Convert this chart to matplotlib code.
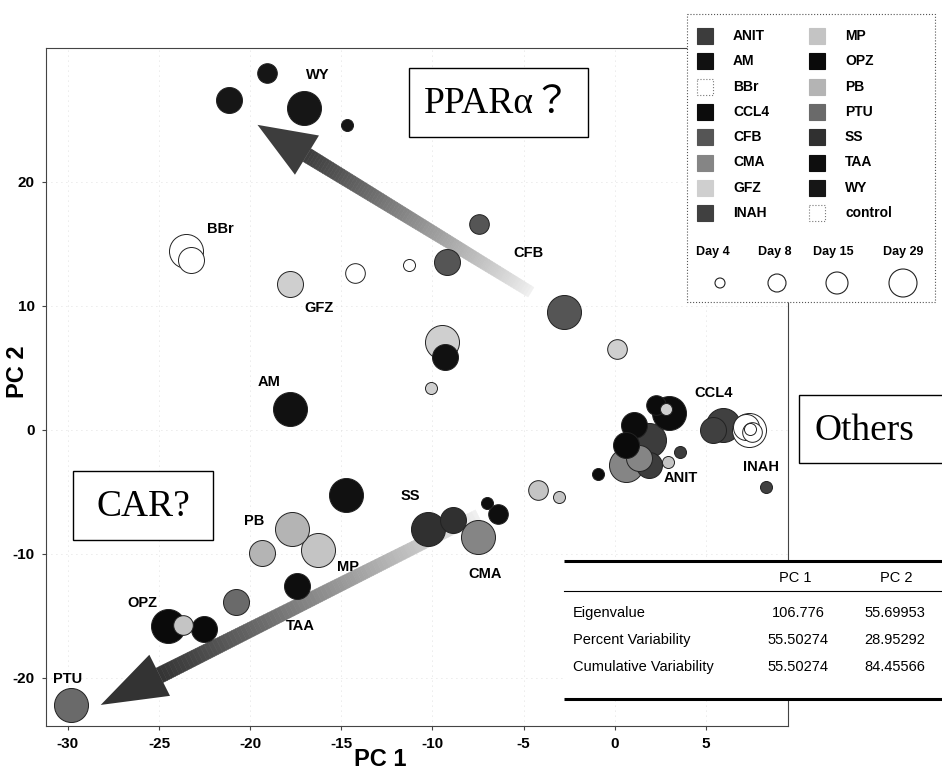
import numpy as np
import matplotlib.pyplot as plt
from matplotlib.patches import Polygon, Rectangle, Circle
from matplotlib.collections import PolyCollection
from matplotlib.transforms import IdentityTransform

plt.rcParams['font.family'] = ['Liberation Sans', 'DejaVu Sans']
plt.rcParams['axes.unicode_minus'] = False

# compounds and their gray shades
compounds = ['ANIT', 'AM', 'BBr', 'CCL4', 'CFB', 'CMA', 'GFZ', 'INAH',
             'MP', 'OPZ', 'PB', 'PTU', 'SS', 'TAA', 'WY', 'control']
shades = ['#3c3c3c', '#111111', '#ffffff', '#0c0c0c', '#555555', '#858585', '#cfcfcf', '#404040',
          '#c4c4c4', '#0a0a0a', '#b4b4b4', '#6a6a6a', '#303030', '#0e0e0e', '#161616', '#ffffff']

days = [4, 8, 15, 29]

# PCA scores
sample_cmpd = ['ANIT', 'ANIT', 'ANIT',
               'AM', 'AM', 'AM',
               'BBr', 'BBr', 'BBr', 'BBr',
               'CCL4', 'CCL4', 'CCL4', 'CCL4',
               'CFB', 'CFB', 'CFB',
               'CMA', 'CMA', 'CMA',
               'GFZ', 'GFZ', 'GFZ', 'GFZ', 'GFZ',
               'INAH', 'INAH', 'INAH',
               'MP', 'MP', 'MP', 'MP', 'MP',
               'OPZ', 'OPZ', 'OPZ',
               'PB', 'PB',
               'PTU', 'PTU',
               'SS', 'SS',
               'TAA', 'TAA', 'TAA',
               'WY', 'WY', 'WY', 'WY',
               'control', 'control', 'control', 'control']
sample_day = [29, 15, 4,
              29, 15, 29,
              29, 15, 8, 4,
              29, 8, 15, 4,
              15, 8, 29,
              29, 29, 15,
              15, 8, 29, 4, 4,
              29, 15, 4,
              29, 8, 8, 4, 4,
              29, 15, 15,
              29, 15,
              29, 15,
              29, 15,
              15, 4, 8,
              8, 15, 29, 4,
              29, 15, 8, 4]
pc1 = [1.87, 1.87, 3.57,
       -17.83, -9.33, -14.76,
       -23.53, -23.26, -14.26, -11.30,
       2.96, 2.25, 1.04, -0.93,
       -9.22, -7.46, -2.80,
       -7.52, 0.60, 1.32,
       -17.83, 0.11, -9.49, -10.09, 2.80,
       5.92, 5.38, 8.28,
       -16.29, -23.70, -4.22, -3.07, 2.91,
       -24.52, -22.55, 0.60,
       -17.72, -19.36,
       -29.84, -20.79,
       -10.26, -8.89,
       -17.44, -7.02, -6.42,
       -19.09, -21.17, -17.06, -14.70,
       7.35, 7.20, 7.50, 7.40]
pc2 = [-0.81, -2.82, -1.77,
       1.69, 5.89, -5.24,
       14.44, 13.71, 12.66, 13.31,
       1.37, 2.02, 0.40, -3.55,
       13.55, 16.61, 9.52,
       -8.63, -2.82, -2.26,
       11.77, 6.53, 7.10, 3.39, 1.69,
       0.40, 0.00, -4.60,
       -9.68, -15.73, -4.84, -5.40, -2.58,
       -15.81, -16.05, -1.21,
       -7.98, -9.92,
       -22.18, -13.87,
       -7.98, -7.26,
       -12.58, -5.89, -6.77,
       28.79, 26.60, 25.97, 24.60,
       0.00, 0.20, -0.20, 0.10]

# group labels placed in the plot
label_text = ['WY', 'BBr', 'GFZ', 'CFB', 'AM', 'CCL4', 'INAH', 'ANIT',
              'SS', 'PB', 'MP', 'CMA', 'TAA', 'OPZ', 'PTU']
label_x = [-16.29, -21.61, -16.24, -4.72, -18.98, 5.43, 8.01, 3.62,
           -11.19, -19.80, -14.65, -7.13, -17.22, -25.89, -30.00]
label_y = [28.63, 16.21, 9.84, 14.27, 3.87, 2.98, -2.98, -3.87,
           -5.32, -7.34, -11.05, -11.61, -15.81, -13.95, -20.08]

# variance table
row_names = ['Eigenvalue', 'Percent Variability', 'Cumulative Variability']
pc1_vals = ['106.776', '55.50274', '55.50274']
pc2_vals = ['55.69953', '28.95292', '84.45566']

day_size = {4: 75, 8: 200, 15: 350, 29: 600}
shade_of = dict(zip(compounds, shades))

fig = plt.figure(figsize=(9.42, 7.8), dpi=100)
W, H = 942, 780
ax = fig.add_axes([46 / W, 1 - 726 / H, (788 - 46) / W, (726 - 48) / H])
ax.set_xlim(-31.2, 9.5)
ax.set_ylim(-23.9, 30.8)
ax.set_xticks([-30, -25, -20, -15, -10, -5, 0, 5])
ax.set_yticks([-20, -10, 0, 10, 20])
ax.grid(True, color='#d6d6d6', ls=(0, (1, 5)), lw=0.6, zorder=0)
ax.set_axisbelow(True)
for s in ax.spines.values():
    s.set_color('#444444')
    s.set_linewidth(0.8)
ax.spines['top'].set_linestyle((0, (2, 1)))
ax.tick_params(labelsize=11, length=3, width=0.8, color='#444444', pad=5)
for lab in ax.get_xticklabels() + ax.get_yticklabels():
    lab.set_fontweight('bold')


def mix(a, b, f):
    g = a + (b - a) * f
    return (g, g, g)


def grad_arrow(tail, tip, g_tail, g_head, width=15, head_len=58, head_hw=23, n=80):
    T = ax.transData
    p0 = T.transform(tail)
    p1 = T.transform(tip)
    d = p1 - p0
    u = d / np.hypot(*d)
    nrm = np.array([-u[1], u[0]])
    base = p1 - u * head_len
    ts = np.linspace(0, 1, n + 1)
    polys, cols = [], []
    for i in range(n):
        a = p0 + (base - p0) * ts[i]
        b = p0 + (base - p0) * ts[i + 1]
        w = width * (0.75 + 0.25 * ts[i])
        polys.append([a + nrm * w / 2, b + nrm * w / 2, b - nrm * w / 2, a - nrm * w / 2])
        cols.append(mix(g_tail, g_head, ts[i] ** 0.9))
    pc = PolyCollection(polys, facecolors=cols, edgecolors=cols, linewidths=0.4,
                        transform=IdentityTransform(), zorder=1.5)
    ax.add_collection(pc, autolim=False)
    head = Polygon([p1, base + nrm * head_hw, base - nrm * head_hw], closed=True,
                   facecolor=mix(g_tail, g_head, 1.0), edgecolor='none',
                   transform=IdentityTransform(), zorder=1.6)
    ax.add_patch(head)


grad_arrow((-4.6, 11.1), (-19.6, 24.6), 0.94, 0.24, width=15)
grad_arrow((-7.5, -6.9), (-28.2, -22.2), 0.94, 0.2, width=16, head_len=66)

# draw larger circles first so the small ones stay visible
order = np.argsort([-day_size[d] for d in sample_day], kind='stable')
for i in order:
    c = sample_cmpd[i]
    ax.scatter(pc1[i], pc2[i], s=day_size[sample_day[i]], c=shade_of[c],
               edgecolors='#222222', linewidths=0.7, zorder=3)

for t, x, y in zip(label_text, label_x, label_y):
    ax.text(x, y, t, ha='center', va='center', fontsize=10.5, fontweight='bold', zorder=4)

fig.text(380 / W, 1 - 760 / H, 'PC 1', ha='center', va='center', fontsize=17, fontweight='bold')
fig.text(18 / W, 1 - 372 / H, 'PC 2', ha='center', va='center', fontsize=17, fontweight='bold',
         rotation=90)

# overlay in pixel units for boxes, legend and table
ov = fig.add_axes([0, 0, 1, 1], zorder=5)
ov.set_xlim(0, W)
ov.set_ylim(H, 0)
ov.axis('off')
ov.patch.set_alpha(0)

serif = ['Liberation Serif', 'Noto Sans CJK JP']
ov.add_patch(Rectangle((409, 68), 179, 69, facecolor='white', edgecolor='black', lw=1))
ov.text(498, 104, 'PPARα？', ha='center', va='center', fontsize=27, family=serif)
ov.add_patch(Rectangle((73, 471), 140, 69, facecolor='white', edgecolor='black', lw=1))
ov.text(143, 507, 'CAR?', ha='center', va='center', fontsize=27, family=serif)
ov.add_patch(Rectangle((799, 395), 160, 68, facecolor='white', edgecolor='black', lw=1,
                       clip_on=False))
ov.text(815, 431, 'Others', ha='left', va='center', fontsize=27, family=serif)

# legend
ov.add_patch(Rectangle((687, 14), 248, 288, facecolor='white', edgecolor='#555555',
                       lw=0.8, ls=':'))
for k, (c, g) in enumerate(zip(compounds, shades)):
    col, row = divmod(k, 8)
    cx = 705 + col * 112
    cy = 36 + row * 25.3
    edge = '#777777' if g == '#ffffff' else g
    ov.add_patch(Rectangle((cx - 8, cy - 8), 16, 16, facecolor=g, edgecolor=edge, lw=0.8,
                           ls=':' if g == '#ffffff' else '-'))
    ov.text(cx + 28, cy, c, ha='left', va='center', fontsize=10, fontweight='bold')
day_lx = [713, 775, 833, 903]
day_cx = [720, 777, 837, 903]
day_r = [5, 9, 11, 14]
for d, lx, cx, r in zip(days, day_lx, day_cx, day_r):
    ov.text(lx, 252, f'Day {d}', ha='center', va='center', fontsize=9, fontweight='bold')
    ov.add_patch(Circle((cx, 283), r, facecolor='white', edgecolor='#222222', lw=0.8))

# table
ov.add_patch(Rectangle((564, 561), 380, 138, facecolor='white', edgecolor='none'))
ov.plot([564, 942], [561, 561], color='black', lw=2.2, solid_capstyle='butt')
ov.plot([564, 942], [591, 591], color='black', lw=0.8)
ov.plot([564, 942], [699, 699], color='black', lw=2.2, solid_capstyle='butt')
ov.text(795, 578, 'PC 1', ha='center', va='center', fontsize=10.5)
ov.text(896, 578, 'PC 2', ha='center', va='center', fontsize=10.5)
for k, (nm, v1, v2) in enumerate(zip(row_names, pc1_vals, pc2_vals)):
    y = 613 + k * 27
    ov.text(573, y, nm, ha='left', va='center', fontsize=10.5)
    ov.text(798, y, v1, ha='center', va='center', fontsize=10.5)
    ov.text(895, y, v2, ha='center', va='center', fontsize=10.5)

fig.savefig('out.png', dpi=100)
